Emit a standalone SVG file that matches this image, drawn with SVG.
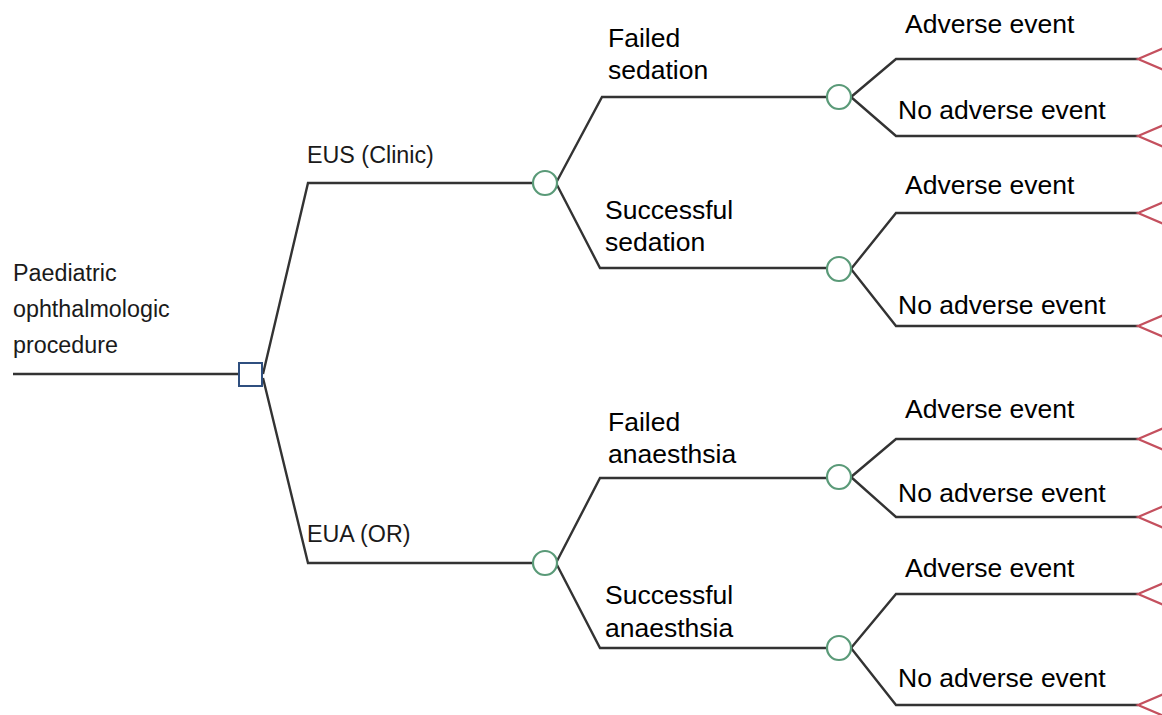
<svg xmlns="http://www.w3.org/2000/svg" width="1162" height="715" viewBox="0 0 1162 715">
<style>
.ln{fill:none;stroke:#333;stroke-width:2.4;stroke-linejoin:miter}
.ch{fill:#fff;stroke:#5a9a78;stroke-width:2.2}
.dc{fill:#fff;stroke:#2f4f7f;stroke-width:2}
.tm{fill:#fff;stroke:#c4505e;stroke-width:2.2}
.t{font-family:"Liberation Sans",Arial,sans-serif;font-size:26.5px;fill:#000}
.s{font-family:"Liberation Sans",Arial,sans-serif;font-size:23.3px;fill:#1a1a1a}
</style>
<rect width="1162" height="715" fill="#fff"/>
<g id="connectors">
<path class="ln" d="M13,374 H239"/>
<path class="ln" d="M263,374 L308,183 H533"/>
<path class="ln" d="M263,378 L308,563 H533"/>
<path class="ln" d="M556,183 L602,97 H827"/>
<path class="ln" d="M556,183 L600,268 H827"/>
<path class="ln" d="M556,563 L600,478 H827"/>
<path class="ln" d="M556,563 L600,648 H827"/>
<path class="ln" d="M851,97 L896,59 H1138"/>
<path class="ln" d="M851,97 L896,136 H1138"/>
<path class="ln" d="M851,269 L896,213 H1138"/>
<path class="ln" d="M851,269 L896,326 H1138"/>
<path class="ln" d="M851,477 L896,439 H1138"/>
<path class="ln" d="M851,477 L896,517 H1138"/>
<path class="ln" d="M851,648 L896,594 H1138"/>
<path class="ln" d="M851,648 L896,705 H1138"/>
</g>
<g id="root">
<rect class="dc" x="239" y="363" width="23" height="23"/>
<text class="s" x="13" y="281">Paediatric</text>
<text class="s" x="13" y="317">ophthalmologic</text>
<text class="s" x="13" y="353">procedure</text>
</g>
<g id="eus">
<circle class="ch" cx="545" cy="183" r="12"/>
<text class="s" x="307" y="163">EUS (Clinic)</text>
</g>
<g id="eua">
<circle class="ch" cx="545" cy="563" r="12"/>
<text class="s" x="307" y="542">EUA (OR)</text>
</g>
<g id="failed-sedation">
<circle class="ch" cx="839" cy="97" r="12"/>
<text class="t" x="608" y="47">Failed</text>
<text class="t" x="608" y="79">sedation</text>
</g>
<g id="successful-sedation">
<circle class="ch" cx="839" cy="269" r="12"/>
<text class="t" x="605" y="219">Successful</text>
<text class="t" x="605" y="251">sedation</text>
</g>
<g id="failed-anaesthsia">
<circle class="ch" cx="839" cy="477" r="12"/>
<text class="t" x="608" y="431">Failed</text>
<text class="t" x="608" y="463">anaesthsia</text>
</g>
<g id="successful-anaesthsia">
<circle class="ch" cx="839" cy="648" r="12"/>
<text class="t" x="605" y="604">Successful</text>
<text class="t" x="605" y="637">anaesthsia</text>
</g>
<g id="t1"><path class="tm" d="M1138,59 L1166,47 V71 Z"/><text class="t" x="905" y="33">Adverse event</text></g>
<g id="t2"><path class="tm" d="M1138,136 L1166,124 V148 Z"/><text class="t" x="898" y="119">No adverse event</text></g>
<g id="t3"><path class="tm" d="M1138,213 L1166,201 V225 Z"/><text class="t" x="905" y="194">Adverse event</text></g>
<g id="t4"><path class="tm" d="M1138,326 L1166,314 V338 Z"/><text class="t" x="898" y="314">No adverse event</text></g>
<g id="t5"><path class="tm" d="M1138,439 L1166,427 V451 Z"/><text class="t" x="905" y="418">Adverse event</text></g>
<g id="t6"><path class="tm" d="M1138,517 L1166,505 V529 Z"/><text class="t" x="898" y="502">No adverse event</text></g>
<g id="t7"><path class="tm" d="M1138,594 L1166,582 V606 Z"/><text class="t" x="905" y="577">Adverse event</text></g>
<g id="t8"><path class="tm" d="M1138,705 L1166,693 V717 Z"/><text class="t" x="898" y="687">No adverse event</text></g>
</svg>
